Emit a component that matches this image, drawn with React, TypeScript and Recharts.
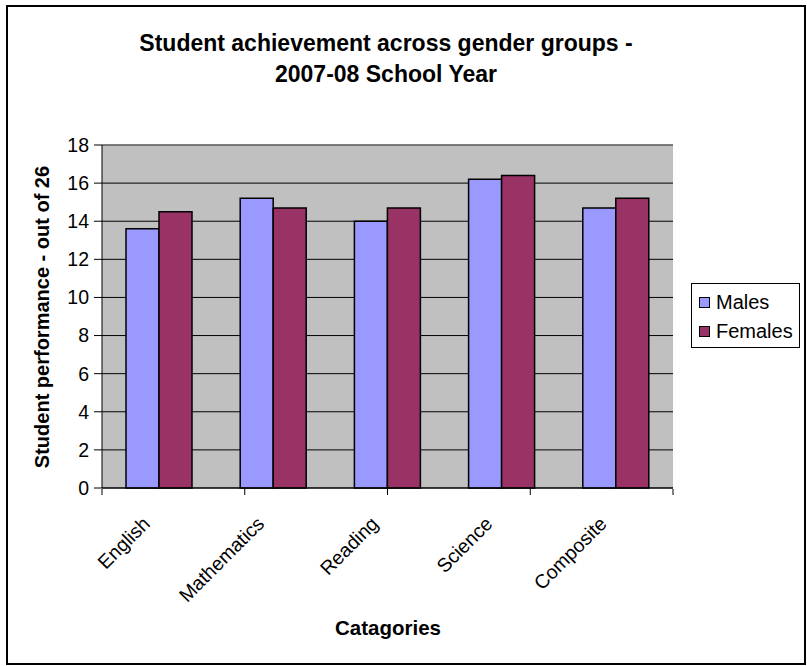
import React from 'react'
import {
  BarChart,
  Bar,
  XAxis,
  YAxis,
  CartesianGrid,
  ReferenceLine,
} from 'recharts'

const categories = ['English', 'Mathematics', 'Reading', 'Science', 'Composite']
const males = [13.6, 15.2, 14.0, 16.2, 14.7]
const females = [14.5, 14.7, 14.7, 16.4, 15.2]
const yTicks = [0, 2, 4, 6, 8, 10, 12, 14, 16, 18]
const edgeTicks = [0, 1, 2, 3, 4, 5]

const COLORS = {
  males: '#9999FF',
  females: '#993366',
}

const FONT = '"Liberation Sans", Arial, sans-serif'

const data = categories.map((name, i) => ({
  name,
  Males: males[i],
  Females: females[i],
}))

function CategoryTick({ x, y, payload }: any) {
  return (
    <g transform={`translate(${x - 8},${y + 37}) rotate(-45)`}>
      <text
        x={0}
        y={0}
        textAnchor="end"
        fontSize={19.5}
        fontFamily={FONT}
        fill="#000"
      >
        {payload.value}
      </text>
    </g>
  )
}

function LegendBox() {
  const items = [
    { label: 'Males', color: COLORS.males },
    { label: 'Females', color: COLORS.females },
  ]
  return (
    <div
      style={{
        position: 'absolute',
        left: 691,
        top: 283,
        width: 109,
        height: 65,
        boxSizing: 'border-box',
        border: '1px solid #000',
        background: '#fff',
        fontFamily: FONT,
        fontSize: 20,
        paddingTop: 4,
      }}
    >
      {items.map(item => (
        <div
          key={item.label}
          style={{ display: 'flex', alignItems: 'center', height: 29, marginLeft: 7 }}
        >
          <div
            style={{
              width: 9,
              height: 9,
              background: item.color,
              border: '1px solid #000',
              marginRight: 6,
            }}
          />
          <span style={{ color: '#000' }}>{item.label}</span>
        </div>
      ))}
    </div>
  )
}

export default function App() {
  return (
    <div
      style={{
        position: 'absolute',
        left: 0,
        top: 0,
        width: 807,
        height: 666,
        background: '#fff',
        fontFamily: FONT,
      }}
    >
      <div
        style={{
          position: 'absolute',
          left: 6,
          top: 5,
          width: 800,
          height: 660,
          boxSizing: 'border-box',
          border: '2px solid #000',
        }}
      />

      {/* title */}
      <div
        style={{
          position: 'absolute',
          left: 86,
          width: 600,
          top: 28,
          textAlign: 'center',
          fontSize: 23,
          fontWeight: 'bold',
          lineHeight: '31px',
        }}
      >
        Student achievement across gender groups -
        <br />
        2007-08 School Year
      </div>

      {/* y axis title */}
      <div
        style={{
          position: 'absolute',
          left: 42 - 160,
          top: 317 - 12,
          width: 320,
          height: 24,
          lineHeight: '24px',
          textAlign: 'center',
          fontSize: 20,
          fontWeight: 'bold',
          transform: 'rotate(-90deg)',
        }}
      >
        Student performance - out of 26
      </div>

      {/* x axis title */}
      <div
        style={{
          position: 'absolute',
          left: 288,
          width: 200,
          top: 616,
          textAlign: 'center',
          fontSize: 20.5,
          fontWeight: 'bold',
          lineHeight: '24px',
        }}
      >
        Catagories
      </div>

      <div style={{ position: 'absolute', left: 0, top: 0 }}>
        <BarChart
          width={807}
          height={666}
          data={data}
          margin={{ top: 145, right: 134, bottom: 176, left: 42 }}
          barGap={0}
          barSize={33}
        >
          <CartesianGrid
            vertical={false}
            fill="#C0C0C0"
            fillOpacity={1}
            stroke="#000"
            strokeWidth={1}
          />
          <XAxis
            dataKey="name"
            height={1}
            tickLine={false}
            tickSize={0}
            tickMargin={0}
            axisLine={{ stroke: '#000', strokeWidth: 1 }}
            tick={CategoryTick}
            interval={0}
          />
          <XAxis
            xAxisId="edge"
            type="number"
            domain={[0, 5]}
            ticks={edgeTicks}
            height={1}
            axisLine={false}
            tickSize={6}
            tickLine={{ stroke: '#000' }}
            tickFormatter={() => ''}
            allowDataOverflow
          />
          <YAxis
            width={60}
            domain={[0, 18]}
            ticks={yTicks}
            interval={0}
            tickSize={8}
            tickMargin={5}
            axisLine={{ stroke: '#000' }}
            tickLine={{ stroke: '#000' }}
            tick={{ fontSize: 19.5, fill: '#000', fontFamily: FONT }}
          />
          <YAxis
            yAxisId="right"
            orientation="right"
            width={0}
            domain={[0, 18]}
            tick={false}
            tickLine={false}
            axisLine={{ stroke: '#808080' }}
          />
          <ReferenceLine y={18} stroke="#808080" />
          <Bar
            dataKey="Males"
            fill={COLORS.males}
            stroke="#000"
            strokeWidth={1.5}
            isAnimationActive={false}
          />
          <Bar
            dataKey="Females"
            fill={COLORS.females}
            stroke="#000"
            strokeWidth={1.5}
            isAnimationActive={false}
          />
        </BarChart>
      </div>

      <LegendBox />
    </div>
  )
}
